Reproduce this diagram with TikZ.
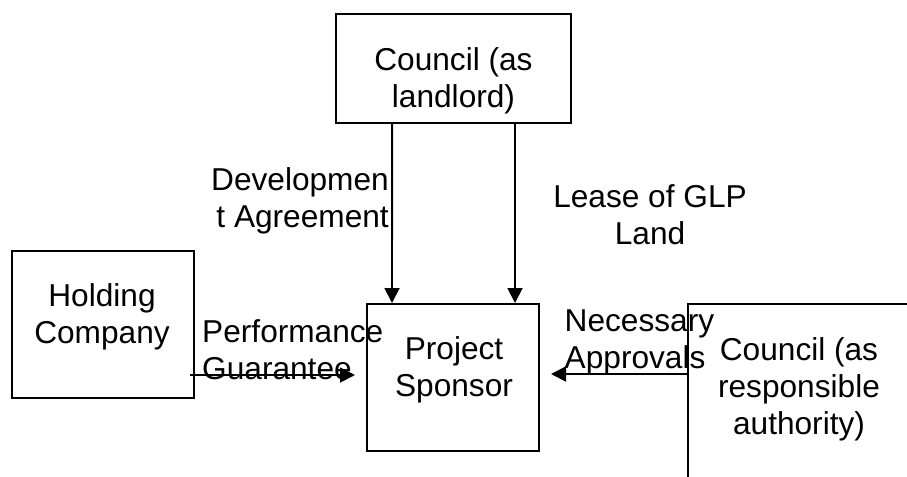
\documentclass[tikz,border=0pt]{standalone}
\usepackage{fontspec}
\setmainfont{Liberation Sans}
\usepackage{tikz}
\usetikzlibrary{positioning, arrows.meta}

\begin{document}
\begin{tikzpicture}[x=0.03cm, y=-0.03cm,
     node distance = 4mm and 4mm,
   every node/.style = {font=\fontsize{27pt}{31.5pt}\selectfont},
         box/.style = {rectangle, draw, line width=1.7pt, inner sep=0pt},
         txt/.style = {inner sep=0pt, align=center},
        link/.style = {line width=1.6pt, -{Triangle[length=0.45cm, width=0.45cm]}}
                        ]
\clip (0,0) rectangle (907,476);
% boxes
\node (landlord) [box, minimum width=7.05cm, minimum height=3.27cm] at (453.5,68.5) {};
\node (holding)  [box, minimum width=5.46cm, minimum height=4.41cm] at (103,324.5) {};
\node (sponsor)  [box, minimum width=5.16cm, minimum height=4.41cm] at (453,377.5) {};
\node (authority)[box, minimum width=6.66cm, minimum height=5.88cm] at (799,402) {};
% box texts
\node (landlordtxt)  [txt] at (453.5,80.7) {Council (as\\landlord)};
\node (holdingtxt)   [txt] at (102,317)  {Holding\\Company};
\node (sponsortxt)   [txt] at (454,370)  {Project\\Sponsor};
\node (authoritytxt) [txt] at (799,389.7)  {Council (as\\responsible\\authority)};
% connector labels
\node (devlbl)   [txt, align=right, anchor=east] at (389,201) {Developmen\\t Agreement};
\node (leaselbl) [txt] at (650,215) {Lease of GLP\\Land};
\node (perflbl)  [txt, align=left, anchor=west] at (202,350) {Performance\\Guarantee};
\node (necelbl)  [txt, align=left, anchor=west] at (564.5,342) {Necessary\\Approvals};
% connectors
\draw[link] ([xshift=-1.84cm]landlord.south) to ([xshift=-1.83cm]sponsor.north);
\draw[link] ([xshift=1.845cm]landlord.south) to ([xshift=1.86cm]sponsor.north);
\draw[link] ([xshift=-0.15cm, yshift=-1.515cm]holding.east) to ([xshift=-0.33cm, yshift=0.075cm]sponsor.west);
\draw[link] ([yshift=0.84cm]authority.west) to ([xshift=0.33cm, yshift=0.105cm]sponsor.east);
\end{tikzpicture}
\end{document}
